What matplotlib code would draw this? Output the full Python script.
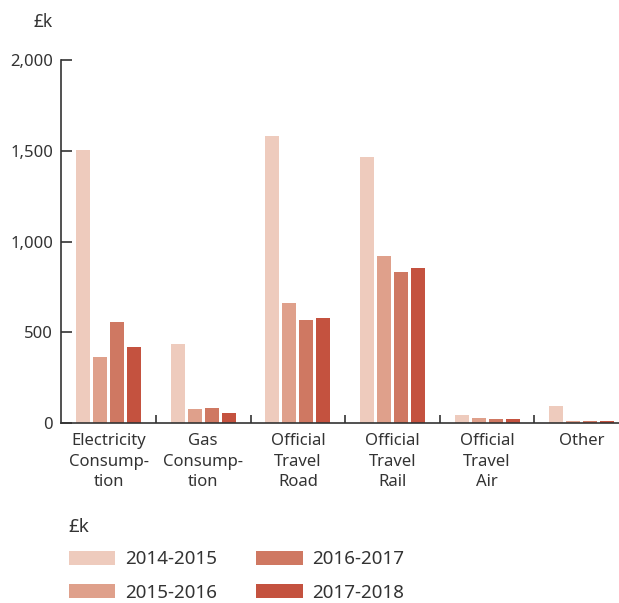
import matplotlib.pyplot as plt
import numpy as np

plt.rcParams['font.family'] = ['Noto Sans', 'DejaVu Sans']

categories = ["Electricity\nConsump-\ntion", "Gas\nConsump-\ntion",
              "Official\nTravel\nRoad", "Official\nTravel\nRail",
              "Official\nTravel\nAir", "Other"]
years = ["2014-2015", "2015-2016", "2016-2017", "2017-2018"]
colors = ["#eecbbd", "#dfa08b", "#cf7862", "#c4523f"]

v_2014 = [1504, 437, 1583, 1467, 44, 94]
v_2015 = [365, 79, 663, 922, 27, 10]
v_2016 = [558, 84, 570, 834, 22, 10]
v_2017 = [420, 57, 580, 855, 22, 10]
series = [v_2014, v_2015, v_2016, v_2017]

W, H = 619, 603
fig = plt.figure(figsize=(W / 100, H / 100), dpi=100)
ax = fig.add_axes([61.3 / W, 180 / H, 567.7 / W, 363 / H])

txt = "#333333"
x = np.arange(len(categories))
step, width = 0.18, 0.148
for i, (vals, c, lab) in enumerate(zip(series, colors, years)):
    ax.bar(x + (i - 1.5) * step, vals, width, color=c, label=lab)

ax.set_xlim(-0.5, len(categories) - 0.5)
ax.set_ylim(0, 2000)
ax.set_yticks([0, 500, 1000, 1500, 2000])
ax.set_yticklabels(["0", "500", "1,000", "1,500", "2,000"])
ax.set_xticks(x)
ax.set_xticklabels(categories, linespacing=1.4)
ax.set_xticks(np.arange(0.5, len(categories) - 0.5), minor=True)

for s in ["top", "right"]:
    ax.spines[s].set_visible(False)
for s in ["left", "bottom"]:
    ax.spines[s].set_color(txt)
    ax.spines[s].set_linewidth(1.2)

ax.tick_params(axis="y", direction="in", length=8, width=1.2, color=txt,
               labelsize=12, labelcolor=txt, pad=6)
ax.tick_params(axis="x", which="major", length=0, labelsize=12,
               labelcolor=txt, pad=7)
ax.tick_params(axis="x", which="minor", direction="in", length=6,
               width=1.2, color=txt)

fig.text(53 / W, 1 - 22 / H, "£k", ha="right", va="center",
         fontsize=12.5, color=txt)

leg = fig.legend(loc="upper left", bbox_to_anchor=(61 / W, 1 - 510 / H),
                 ncol=2, title="£k", alignment="left", frameon=False,
                 fontsize=13.5, title_fontsize=13.5, handlelength=2.5,
                 handleheight=0.75, handletextpad=0.5, columnspacing=2.1,
                 labelspacing=0.8, borderaxespad=0)
for t in leg.get_texts():
    t.set_color(txt)
leg.get_title().set_color(txt)

fig.savefig("out.png", dpi=100)
